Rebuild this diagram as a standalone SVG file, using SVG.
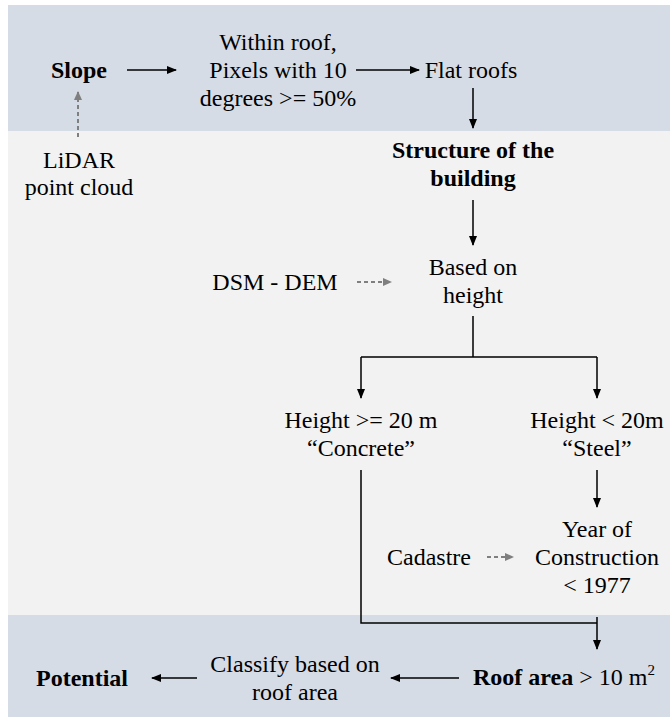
<svg xmlns="http://www.w3.org/2000/svg" width="670" height="725" viewBox="0 0 670 725">
<style>
text{font-family:'Liberation Serif','Times New Roman',serif;font-size:24px;fill:#000;text-anchor:middle}
.b{font-weight:bold}
.s{text-anchor:start}
.ln{fill:none;stroke:#000;stroke-width:1.5}
.ar{fill:none;stroke:#000;stroke-width:1.5;marker-end:url(#ah)}
.da{fill:none;stroke:#7f7f7f;stroke-width:2;stroke-dasharray:4 3;marker-end:url(#ag)}
</style>
<defs>
<marker id="ah" markerUnits="userSpaceOnUse" markerWidth="10" markerHeight="8" refX="9" refY="4" orient="auto"><path d="M0,0 L10,4 L0,8 z" fill="#000"/></marker>
<marker id="ag" markerUnits="userSpaceOnUse" markerWidth="9" markerHeight="8" refX="8" refY="4" orient="auto"><path d="M0,0 L9,4 L0,8 z" fill="#7f7f7f"/></marker>
</defs>
<g id="background">
<rect x="8" y="5" width="662" height="126" fill="#d6dce5"/>
<rect x="8" y="131" width="662" height="484" fill="#f2f2f2"/>
<rect x="8" y="615" width="662" height="102" fill="#d6dce5"/>
</g>
<g id="connectors">
<line class="ar" x1="127" y1="70" x2="176" y2="70"/>
<line class="ar" x1="356" y1="70" x2="419" y2="70"/>
<line class="ar" x1="473" y1="88" x2="473" y2="128"/>
<line class="da" x1="78" y1="137" x2="78" y2="92"/>
<line class="ar" x1="473" y1="200" x2="473" y2="245"/>
<line class="da" x1="357" y1="282" x2="391" y2="282"/>
<path class="ln" d="M473,316 V357 M361,357 H597"/>
<line class="ar" x1="361" y1="357" x2="361" y2="398"/>
<line class="ar" x1="597" y1="357" x2="597" y2="398"/>
<line class="ar" x1="597" y1="470" x2="597" y2="507"/>
<line class="da" x1="487" y1="557" x2="513" y2="557"/>
<path class="ln" d="M361,470 V623 H597"/>
<line class="ar" x1="597" y1="617" x2="597" y2="649"/>
<line class="ar" x1="459" y1="678" x2="391" y2="678"/>
<line class="ar" x1="197" y1="678" x2="152" y2="678"/>
</g>
<g id="slope"><text class="b" x="79" y="78">Slope</text></g>
<g id="lidar"><text x="79" y="168">LiDAR</text><text x="79" y="195">point cloud</text></g>
<g id="pixels"><text x="278" y="50">Within roof,</text><text x="278" y="78">Pixels with 10</text><text x="278" y="106">degrees &gt;= 50%</text></g>
<g id="flat-roofs"><text x="471" y="78">Flat roofs</text></g>
<g id="structure"><text class="b" x="473" y="158">Structure of the</text><text class="b" x="473" y="186">building</text></g>
<g id="dsm-dem"><text x="275" y="290">DSM - DEM</text></g>
<g id="based-on-height"><text x="473" y="275">Based on</text><text x="473" y="303">height</text></g>
<g id="concrete"><text x="361" y="428">Height &gt;= 20 m</text><text x="361" y="456">“Concrete”</text></g>
<g id="steel"><text x="597" y="428">Height &lt; 20m</text><text x="597" y="456">“Steel”</text></g>
<g id="year"><text x="597" y="537">Year of</text><text x="597" y="565">Construction</text><text x="597" y="593">&lt; 1977</text></g>
<g id="cadastre"><text x="429" y="565">Cadastre</text></g>
<g id="roof-area"><text class="s" x="473" y="685"><tspan font-weight="bold">Roof area</tspan> &gt; 10 m<tspan font-size="15" dy="-10">2</tspan></text></g>
<g id="classify"><text x="295" y="672">Classify based on</text><text x="295" y="700">roof area</text></g>
<g id="potential"><text class="b" x="82" y="686">Potential</text></g>
</svg>
